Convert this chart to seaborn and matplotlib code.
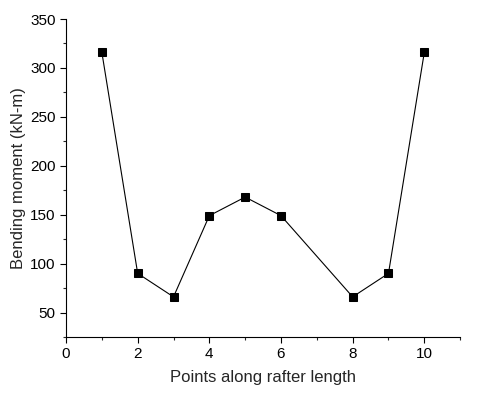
import matplotlib
matplotlib.use("Agg")
import matplotlib.pyplot as plt
import seaborn as sns
import pandas as pd
from matplotlib.ticker import MultipleLocator

points = [1, 2, 3, 4, 5, 6, 8, 9, 10]
moment = [316, 90, 66, 149, 168, 149, 66, 90, 316]

sns.set_style("ticks")
plt.rcParams['font.family'] = ['Liberation Sans', 'DejaVu Sans']

df = pd.DataFrame({"x": points, "y": moment})
fig = plt.figure(figsize=(4.89, 3.96), dpi=100)
ax = fig.add_axes([0.135, 0.149, 0.806, 0.803])
sns.lineplot(data=df, x="x", y="y", ax=ax, color="black", linewidth=0.8,
             marker="s", markersize=5.5, markeredgecolor="black", markerfacecolor="black")
ax.set_xlim(0, 11)
ax.set_ylim(25, 350)
ax.xaxis.set_major_locator(MultipleLocator(2))
ax.xaxis.set_minor_locator(MultipleLocator(1))
ax.yaxis.set_major_locator(MultipleLocator(50))
ax.yaxis.set_minor_locator(MultipleLocator(25))
ax.set_yticks([50, 100, 150, 200, 250, 300, 350])
ax.tick_params(axis="both", which="major", direction="out", length=4, width=0.8, labelsize=11, colors="black")
ax.tick_params(axis="both", which="minor", direction="out", length=2.5, width=0.8)
for s in ["top", "right"]:
    ax.spines[s].set_visible(False)
for s in ["left", "bottom"]:
    ax.spines[s].set_linewidth(0.8)
    ax.spines[s].set_color("black")
ax.set_xlabel("Points along rafter length", fontsize=12, labelpad=6)
ax.set_ylabel("Bending moment (kN-m)", fontsize=12, labelpad=3)
fig.savefig("out.png", dpi=100)
